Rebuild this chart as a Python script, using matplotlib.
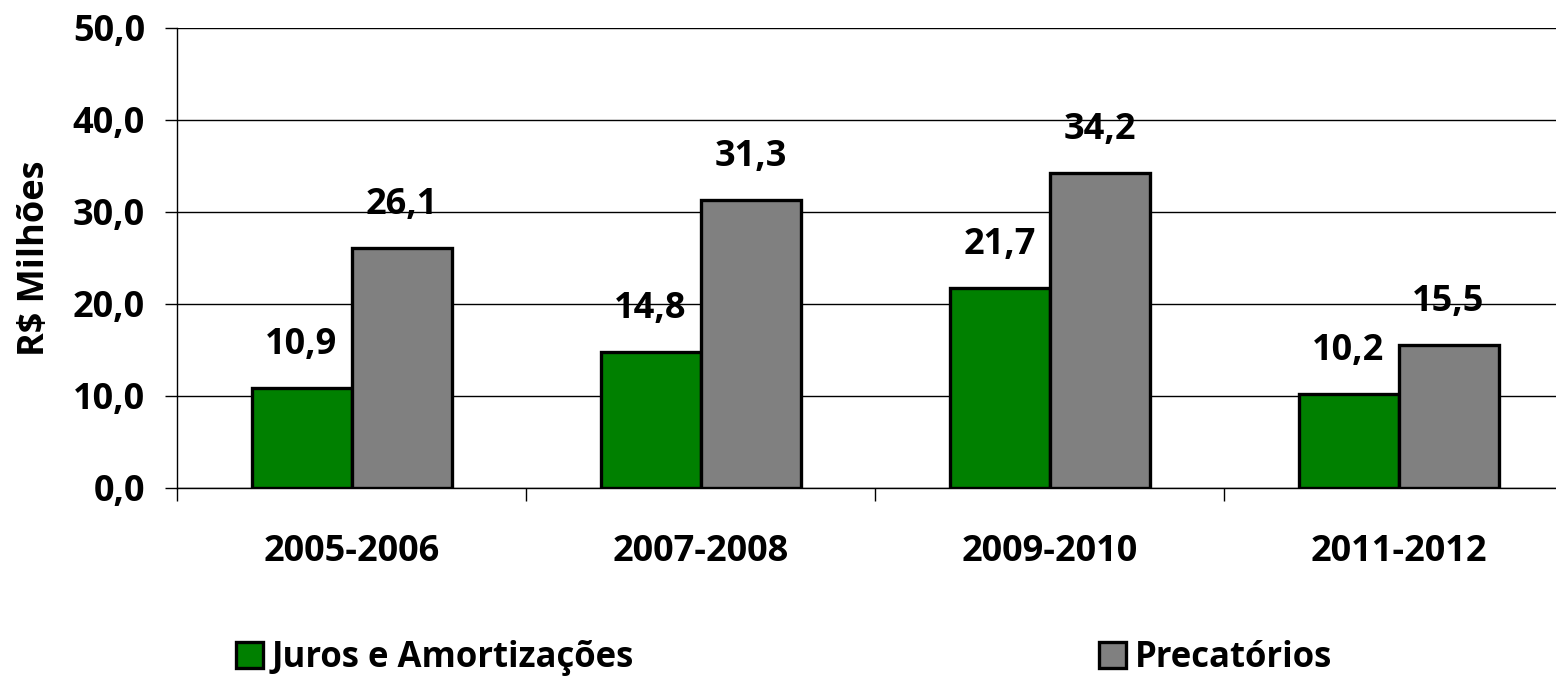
import numpy as np
import matplotlib.pyplot as plt
from matplotlib.patches import Patch

plt.rcParams['font.family'] = ['Open Sans', 'DejaVu Sans']
plt.rcParams['font.weight'] = 'bold'

periods = ['2005-2006', '2007-2008', '2009-2010', '2011-2012']
juros = [10.9, 14.8, 21.7, 10.2]
precatorios = [26.1, 31.3, 34.2, 15.5]
yticks = [0, 10, 20, 30, 40, 50]

GREEN = '#008000'
GRAY = '#808080'
FS = 26

fig = plt.figure(figsize=(15.56, 6.77), dpi=100)
ax = fig.add_axes([177/1556, 1 - 488/677, 1396/1556, 460/677])

x = np.arange(len(periods))
w = 100/349
b1 = ax.bar(x - w/2, juros, w, color=GREEN, edgecolor='black', linewidth=2.4, zorder=3)
b2 = ax.bar(x + w/2, precatorios, w, color=GRAY, edgecolor='black', linewidth=2.4, zorder=3)

for bars, vals in ((b1, juros), (b2, precatorios)):
    for r, v in zip(bars, vals):
        ax.annotate(f'{v:.1f}'.replace('.', ','), (r.get_x() + r.get_width()/2, v),
                    xytext=(0, 31), textcoords='offset points',
                    ha='center', va='center', fontsize=FS, fontweight='bold')

ax.set_xlim(-0.5, len(periods) - 0.5)
ax.set_ylim(0, 50)
ax.set_yticks(yticks)
ax.set_yticklabels([f'{t:.1f}'.replace('.', ',') for t in yticks], fontsize=FS, fontweight='bold')
ax.set_xticks(x)
ax.set_xticklabels(periods, fontsize=FS, fontweight='bold')
ax.set_xticks(np.arange(len(periods) + 1) - 0.5, minor=True)
ax.tick_params(axis='x', which='major', length=0, pad=33)
ax.tick_params(axis='x', which='minor', length=9, width=1, direction='out')
ax.tick_params(axis='y', length=9, width=1, pad=14)
ax.yaxis.grid(True, color='black', linewidth=1.0, zorder=0)
ax.set_axisbelow(True)
for s in ('top', 'right'):
    ax.spines[s].set_visible(False)
ax.spines['left'].set_linewidth(1.0)
ax.spines['bottom'].set_linewidth(1.0)

ax.set_ylabel('R$ Milhões', fontsize=FS, fontweight='bold')
ax.yaxis.set_label_coords(-124/1396, 0.5)

# two separate legend entries, far apart like the original
leg_kw = dict(frameon=False, fontsize=25, handlelength=0.78, handleheight=0.78,
              handletextpad=0.25, borderpad=0, borderaxespad=0, loc='center left')
l1 = fig.legend([Patch(facecolor=GREEN, edgecolor='black', linewidth=2.4)],
                ['Juros e Amortizações'], bbox_to_anchor=(236/1556, 1 - 658/677), **leg_kw)
l2 = fig.legend([Patch(facecolor=GRAY, edgecolor='black', linewidth=2.4)],
                ['Precatórios'], bbox_to_anchor=(1099/1556, 1 - 658/677), **leg_kw)
for lg in (l1, l2):
    for t in lg.get_texts():
        t.set_fontweight('bold')

fig.savefig('out.png', dpi=100)
